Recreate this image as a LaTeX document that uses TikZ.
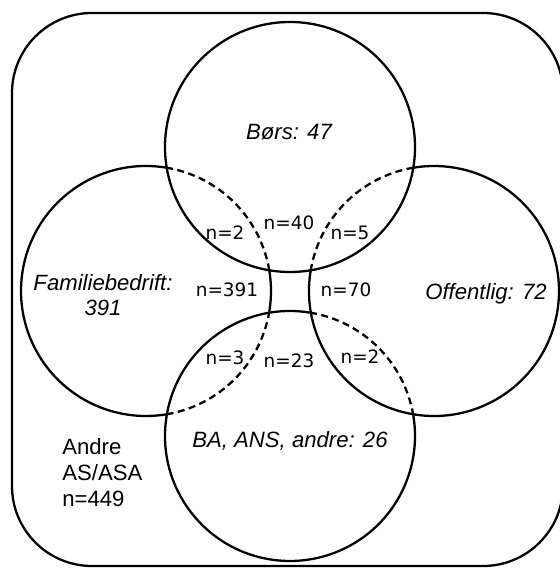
\documentclass[tikz,border=0pt]{standalone}
\usepackage{fontspec}
\setmainfont{Liberation Sans}
\newfontfamily\countfont{DejaVu Sans}

\begin{document}
\begin{tikzpicture}[x=0.02cm,y=0.02cm,
    ring/.style={line width=1.3pt,black},
    hidden/.style={ring,dash pattern=on 4pt off 2.5pt},
    group/.style={inner sep=0pt,font=\fontsize{12.6}{14.2}\selectfont\itshape},
    count/.style={inner sep=0pt,anchor=base,font=\countfont\fontsize{10.5}{12}\selectfont}]

    \useasboundingbox (0,0) rectangle (560,568);
    \clip (0,0) rectangle (560,568);
    \draw[ring,rounded corners=1.6cm] (12,555) rectangle (563,2);

    \coordinate (T) at (290,421);
    \coordinate (B) at (290,132);
    \coordinate (L) at (146,277);
    \coordinate (R) at (434,277);

    % circles, dashed where they run inside another one
    \draw[ring] (T) circle[radius=125];
    \draw[ring] (L) ++(80.5:125) arc[start angle=80.5,end angle=279.5,radius=125];
    \draw[ring] (L) ++(-9.5:125) arc[start angle=-9.5,end angle=9.5,radius=125];
    \draw[hidden] (L) ++(9.5:125) arc[start angle=9.5,end angle=80.5,radius=125];
    \draw[hidden] (L) ++(-80.5:125) arc[start angle=-80.5,end angle=-9.5,radius=125];
    \draw[ring] (R) ++(170.5:125) arc[start angle=170.5,end angle=459.5,radius=125];
    \draw[hidden] (R) ++(99.5:125) arc[start angle=99.5,end angle=170.5,radius=125];
    \draw[ring] (B) ++(80.5:125) arc[start angle=80.5,end angle=369.5,radius=125];
    \draw[hidden] (B) ++(9.5:125) arc[start angle=9.5,end angle=80.5,radius=125];

    \node[group,anchor=base] (bors) at (289,428) {Børs: 47};
    \node[group,anchor=north,align=center] (familie) at (103,294) {Familiebedrift:\\391};
    \node[group,anchor=base] (offentlig) at (486,268) {Offentlig: 72};
    \node[group,anchor=base] (annen) at (290,120) {BA, ANS, andre: 26};
    \node[anchor=north west,inner sep=0pt,align=left,
          font=\fontsize{12.6}{14.7}\selectfont] (rest) at (62,130) {Andre\\AS/ASA\\n=449};

    \node[count] (cFB) at (225,328) {n=2};
    \node[count] (cB) at (289,338) {n=40};
    \node[count] (cBO) at (350,328) {n=5};
    \node[count] (cF) at (227,271) {n=391};
    \node[count] (cO) at (346,271) {n=70};
    \node[count] (cFA) at (225,203) {n=3};
    \node[count] (cA) at (289,200) {n=23};
    \node[count] (cOA) at (360,204) {n=2};

\end{tikzpicture}
\end{document}
